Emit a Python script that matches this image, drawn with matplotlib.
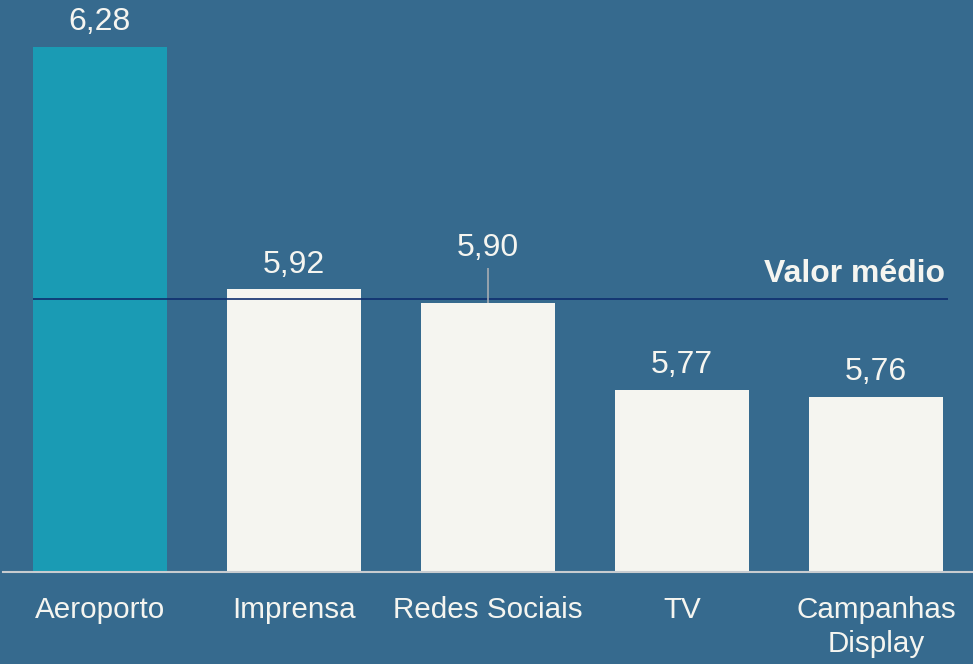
import matplotlib
matplotlib.use("Agg")
import matplotlib.pyplot as plt

plt.rcParams['font.family'] = ['Liberation Sans', 'DejaVu Sans']

categories = ["Aeroporto", "Imprensa", "Redes Sociais", "TV", "Campanhas\nDisplay"]
values = [6.28, 5.92, 5.90, 5.77, 5.76]
value_labels = ["6,28", "5,92", "5,90", "5,77", "5,76"]
mean_value = 5.905
mean_label = "Valor médio"

bg = "#366A8E"
bar_colors = ["#1A9BB4", "#F5F5F0", "#F5F5F0", "#F5F5F0", "#F5F5F0"]

fig = plt.figure(figsize=(9.73, 6.64), dpi=100, facecolor=bg)
ax = fig.add_axes([3 / 973, 92 / 664, 970 / 973, 572 / 664])
ax.set_facecolor(bg)

x = list(range(len(values)))
ymin = 5.5
ax.bar(x, [v - ymin for v in values], bottom=ymin, width=0.686, color=bar_colors, zorder=2)

ax.set_xlim(-0.5, 4.5)
ax.set_ylim(ymin, ymin + 572 / 673)

# average line
ax.hlines(mean_value, -0.343, 4.37, color="#0E2D6E", linewidth=1.2, zorder=3)
ax.text(4.355, mean_value + 0.026, mean_label, ha="right", va="baseline",
        fontsize=23, fontweight="bold", color="#F5F5F0")

# value labels (Redes Sociais raised with a leader line)
for i, (v, lab) in enumerate(zip(values, value_labels)):
    if i == 2:
        ax.vlines(i, v, v + 0.052, color="#A7ADB3", linewidth=1.2, zorder=3)
        ax.text(i, v + 0.069, lab, ha="center", va="baseline", fontsize=23, color="#F5F5F0")
    else:
        ax.text(i, v + 0.025, lab, ha="center", va="baseline", fontsize=23, color="#F5F5F0")

ax.set_xticks(x)
ax.set_xticklabels(categories, fontsize=21.3, color="#F5F5F0", linespacing=1.27)
ax.tick_params(axis="x", length=0, pad=17)
ax.set_yticks([])
for s in ["top", "right", "left"]:
    ax.spines[s].set_visible(False)
ax.spines["bottom"].set_color("#C8CCD0")
ax.spines["bottom"].set_linewidth(1.5)

fig.savefig("out.png", dpi=100, facecolor=bg)
